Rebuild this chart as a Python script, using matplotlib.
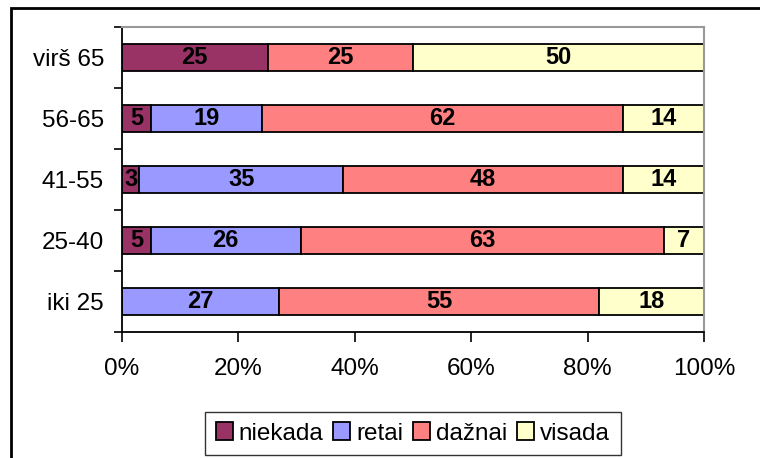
import matplotlib
matplotlib.use("Agg")
import matplotlib.pyplot as plt
from matplotlib.patches import Rectangle
import numpy as np

categories = ["iki 25", "25-40", "41-55", "56-65", "virš 65"]
series_names = ["niekada", "retai", "dažnai", "visada"]
niekada = [0, 5, 3, 5, 25]
retai = [27, 26, 35, 19, 0]
daznai = [55, 63, 48, 62, 25]
visada = [18, 7, 14, 14, 50]
colors = ["#993366", "#9999FF", "#FF8080", "#FFFFCC"]
xtick_labels = ["0%", "20%", "40%", "60%", "80%", "100%"]

plt.rcParams['font.family'] = ['Liberation Sans', 'DejaVu Sans']

fig = plt.figure(figsize=(7.6, 4.58), dpi=100)
ax = fig.add_axes([122/760, 1-332/458, (704-122)/760, (332-27)/458])

data = np.array([niekada, retai, daznai, visada], dtype=float)
totals = data.sum(axis=0)
pct = data / totals * 100
y = np.arange(len(categories))
left = np.zeros(len(categories))
for i, name in enumerate(series_names):
    ax.barh(y, pct[i], left=left, height=0.43, color=colors[i],
            edgecolor="black", linewidth=1.3, label=name)
    for j in range(len(categories)):
        if data[i, j] > 0:
            ax.text(left[j] + pct[i, j] / 2, y[j], f"{int(data[i, j])}",
                    ha="center", va="center", fontsize=17, fontweight="bold")
    left += pct[i]

ax.set_xlim(0, 100)
ax.set_ylim(-0.5, 4.5)
ax.set_xticks(np.linspace(0, 100, 6))
ax.set_xticklabels(xtick_labels, fontsize=17.5)
ax.set_yticks(y)
ax.set_yticklabels(categories, fontsize=17.5)
ax.set_yticks(np.arange(-0.5, 5, 1), minor=True)
ax.tick_params(axis="y", which="major", length=0, pad=13)
ax.tick_params(axis="y", which="minor", length=6, width=1.2, direction="out")
ax.tick_params(axis="x", which="major", length=7, width=1.2, direction="out", pad=12)
for s in ["left", "bottom"]:
    ax.spines[s].set_color("black")
    ax.spines[s].set_linewidth(1.3)
for s in ["top", "right"]:
    ax.spines[s].set_color("#999999")
    ax.spines[s].set_linewidth(1.5)

leg = fig.legend(loc="center", bbox_to_anchor=(413/760, 1-433.5/458), ncol=4,
                 fontsize=17.5, frameon=True, fancybox=False, edgecolor="black",
                 handlelength=0.7, handleheight=0.7, handletextpad=0.25,
                 columnspacing=0.4, borderpad=0.45, borderaxespad=0)
leg.get_frame().set_linewidth(1.0)

fig.patches.append(Rectangle((11/760, -0.1), 1.2, 1 - 8/458 + 0.1,
                             transform=fig.transFigure, fill=False,
                             edgecolor="black", linewidth=2))

fig.savefig("out.png", dpi=100)
